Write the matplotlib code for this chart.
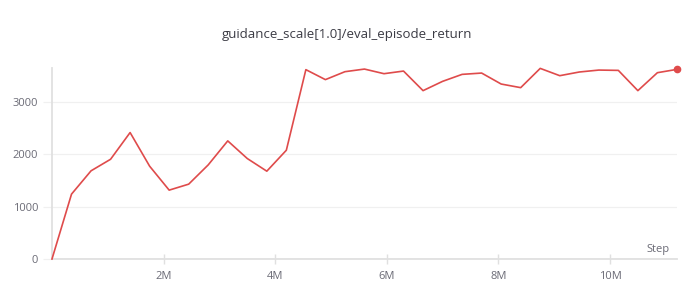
import matplotlib.pyplot as plt

steps = [0, 350000, 700000, 1050000, 1400000, 1750000, 2100000, 2450000,
         2800000, 3150000, 3500000, 3850000, 4200000, 4550000, 4900000,
         5250000, 5600000, 5950000, 6300000, 6650000, 7000000, 7350000,
         7700000, 8050000, 8400000, 8750000, 9100000, 9450000, 9800000,
         10150000, 10500000, 10850000, 11200000]
returns = [0, 1236, 1680, 1900, 2409, 1768, 1312, 1426, 1793, 2250, 1914,
           1673, 2072, 3607, 3417, 3568, 3618, 3530, 3580, 3207, 3384, 3517,
           3542, 3333, 3264, 3631, 3492, 3562, 3599, 3593, 3207, 3549, 3612]
xticks = [2000000, 4000000, 6000000, 8000000, 10000000]
xtick_labels = ['2M', '4M', '6M', '8M', '10M']
yticks = [0, 1000, 2000, 3000]

plt.rcParams['font.family'] = ['Open Sans', 'DejaVu Sans']

fig = plt.figure(figsize=(6.95, 2.94), dpi=100)
ax = fig.add_axes([0.0748, 0.119, 0.8992, 0.650])

line_color = '#df4b4b'
ax.plot(steps, returns, color=line_color, linewidth=1.2, clip_on=False, zorder=3)
ax.plot(steps[-1:], returns[-1:], marker='o', markersize=4.5, color=line_color,
        clip_on=False, zorder=4)

ax.set_xlim(0, 11200000)
ax.set_ylim(0, 3640)
ax.set_xticks(xticks)
ax.set_xticklabels(xtick_labels)
ax.set_yticks(yticks)

for s in ['top', 'right']:
    ax.spines[s].set_visible(False)
for s in ['left', 'bottom']:
    ax.spines[s].set_color('#e0e0e0')
    ax.spines[s].set_linewidth(1.3)

ax.grid(axis='y', color='#f0f0f0', linewidth=0.9)
ax.set_axisbelow(True)
ax.tick_params(axis='x', direction='inout', length=7, width=1, color='#e0e0e0',
               labelsize=8, labelcolor='#6b6b76', pad=5)
ax.tick_params(axis='y', direction='out', length=6.5, width=0.9, color='#f0f0f0',
               labelsize=8, labelcolor='#6b6b76', pad=3.5)

ax.text(0.988, 0.05, 'Step', transform=ax.transAxes, ha='right', va='center',
        fontsize=8, color='#6b6b76')

fig.text(0.5, 0.884, 'guidance_scale[1.0]/eval_episode_return', ha='center',
         va='center', fontsize=9.5, color='#3b3b44')

fig.savefig('out.png', dpi=100)
